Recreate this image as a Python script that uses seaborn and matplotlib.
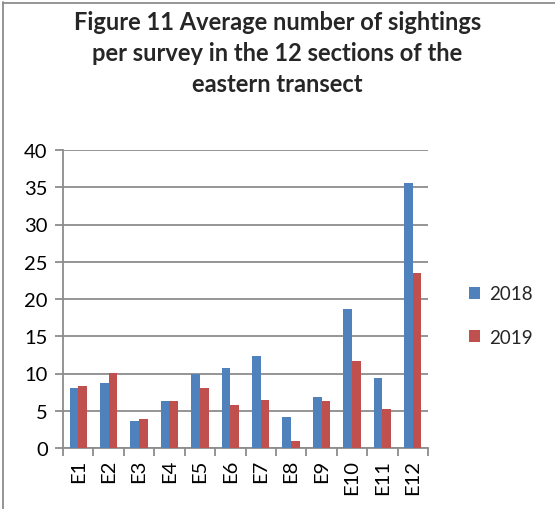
import matplotlib
matplotlib.use("Agg")
import matplotlib.pyplot as plt
from matplotlib.lines import Line2D
from matplotlib.ticker import FixedLocator, MultipleLocator
import pandas as pd
import seaborn as sns

# Section labels and average sightings per survey
sections = ["E1", "E2", "E3", "E4", "E5", "E6", "E7", "E8", "E9", "E10", "E11", "E12"]
sightings_2018 = [8.1, 8.7, 3.6, 6.3, 10.0, 10.7, 12.4, 4.2, 6.9, 18.7, 9.35, 35.6]
sightings_2019 = [8.3, 10.1, 3.9, 6.3, 8.1, 5.8, 6.5, 1.0, 6.3, 11.7, 5.2, 23.5]
years = ["2018", "2019"]
title = "Figure 11 Average number of sightings\nper survey in the 12 sections of the\neastern transect"

df = pd.DataFrame({
    "section": sections * 2,
    "year": [years[0]] * len(sections) + [years[1]] * len(sections),
    "value": sightings_2018 + sightings_2019,
})

sns.set_theme(style="white")
plt.rcParams["font.family"] = ["Lato", "DejaVu Sans"]

fig = plt.figure(figsize=(5.55, 5.10), dpi=100)
ax = fig.add_axes([63 / 555, 61 / 510, 365 / 555, 298 / 510])

palette = {"2018": "#4F81BD", "2019": "#C0504D"}
sns.barplot(data=df, x="section", y="value", hue="year", order=sections,
            hue_order=years, palette=palette, width=0.57, gap=0,
            saturation=1, ax=ax, linewidth=0, zorder=3)

grid_c = "#8C8C8C"
ax.set_ylim(0, 40)
ax.set_xlim(-0.5, len(sections) - 0.5)
ax.yaxis.set_major_locator(MultipleLocator(5))
ax.yaxis.grid(True, color=grid_c, linewidth=1.3, zorder=0)
ax.set_axisbelow(True)
for s in ["top", "right"]:
    ax.spines[s].set_visible(False)
for s in ["left", "bottom"]:
    ax.spines[s].set_color(grid_c)
    ax.spines[s].set_linewidth(1.3)

ax.set_xlabel("")
ax.set_ylabel("")
ax.tick_params(axis="y", which="major", length=6, width=1.3, color=grid_c,
               labelsize=14.5, labelcolor="black", left=True, pad=5)
ax.tick_params(axis="x", which="major", length=0, labelsize=14.5,
               labelcolor="black", rotation=90, pad=8)
ax.xaxis.set_minor_locator(FixedLocator([i - 0.5 for i in range(len(sections) + 1)]))
ax.tick_params(axis="x", which="minor", length=6, width=1.3, color=grid_c,
               bottom=True)

leg = ax.legend(loc="center left", bbox_to_anchor=(1.065, 0.445), frameon=False,
                fontsize=13.5, handlelength=0.6, handleheight=0.6,
                labelspacing=1.4, handletextpad=0.5)

fig.text(0.50, 0.978, title, ha="center", va="top", fontsize=17,
         fontweight="bold", linespacing=1.42)

# chart frame edges
fig.add_artist(Line2D([3 / 555, 3 / 555], [0, 1 - 3 / 510], transform=fig.transFigure,
                      color="#8C8C8C", linewidth=1.3))
fig.add_artist(Line2D([3 / 555, 1], [1 - 4 / 510, 1 - 4 / 510], transform=fig.transFigure,
                      color="#8C8C8C", linewidth=1.3))

fig.savefig("out.png", dpi=100)
